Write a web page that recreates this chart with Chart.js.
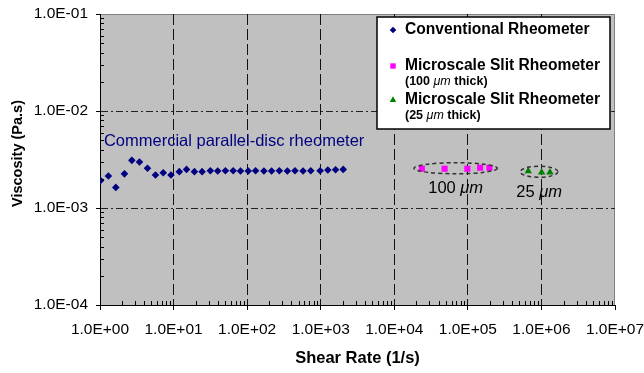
<!DOCTYPE html>
<html lang="en">
<head>
	<meta charset="UTF-8">
	<title>Viscosity vs Shear Rate</title>
	<script src="https://cdn.jsdelivr.net/npm/chart.js"></script>
	<style>
		* { margin: 0; padding: 0; box-sizing: border-box; }
		body { background: #fff; }
		#wrap { width: 644px; height: 373px; }
	</style>
</head>
<body>
	<div id="wrap"><canvas id="chart" width="644" height="373"></canvas></div>

	<script>
		const FONT = 'Arial, "Liberation Sans", sans-serif';

		// conventional (parallel-disc) rheometer
		const convShear = [1.02, 1.30, 1.64, 2.15, 2.71, 3.44, 4.42, 5.68, 7.23, 9.22,
			11.97, 15.0, 19.2, 24.4, 31.6, 39.8, 50.7, 64.6, 81.3, 103.5,
			130.2, 169, 215, 274, 352, 447, 575, 733, 982, 1250, 1592, 2022];
		const convVisc = [1.92e-3, 2.14e-3, 1.63e-3, 2.25e-3, 3.10e-3, 2.98e-3, 2.57e-3, 2.19e-3, 2.31e-3, 2.19e-3,
			2.37e-3, 2.50e-3, 2.37e-3, 2.37e-3, 2.42e-3, 2.405e-3, 2.42e-3, 2.42e-3, 2.405e-3, 2.405e-3,
			2.42e-3, 2.405e-3, 2.405e-3, 2.42e-3, 2.405e-3, 2.42e-3, 2.405e-3, 2.42e-3, 2.42e-3, 2.466e-3, 2.48e-3, 2.50e-3];

		// microscale slit rheometer, 100 um gap
		const slit100Shear = [23700, 48300, 98400, 146700, 196500];
		const slit100Visc = [2.54e-3, 2.54e-3, 2.54e-3, 2.60e-3, 2.60e-3];

		// microscale slit rheometer, 25 um gap
		const slit25Shear = [662000, 1006000, 1306000];
		const slit25Visc = [2.40e-3, 2.33e-3, 2.33e-3];

		const xTicks = [1, 10, 100, 1e3, 1e4, 1e5, 1e6, 1e7];
		const yTicks = [1e-4, 1e-3, 1e-2, 1e-1];

		const seriesNames = ['Conventional Rheometer', 'Microscale Slit Rheometer', 'Microscale Slit Rheometer'];
		const seriesNotes = [null, ['(100 ', 'μm', ' thick)'], ['(25 ', 'μm', ' thick)']];
		const seriesColors = ['#000080', '#ff00ff', '#008000'];
		const seriesStyles = ['rectRot', 'rect', 'triangle'];
		const seriesRadius = [3.8, 4.3, 4.3];

		const groupLabels = [['100 ', 'μm'], ['25 ', 'μm']];
		const commercialLabel = 'Commercial parallel-disc rheometer';
		const yTitle = 'Viscosity (Pa.s)';

		function toPoints(xs, ys) {
			return xs.map((x, i) => ({ x: x, y: ys[i] }));
		}

		function sci(v) {
			const e = Math.round(Math.log10(v));
			return '1.0E' + (e < 0 ? '-' : '+') + String(Math.abs(e)).padStart(2, '0');
		}

		// gray plot background + top/right frame
		const plotBg = {
			id: 'plotBg',
			beforeDraw(chart) {
				const { ctx, chartArea: a } = chart;
				ctx.save();
				ctx.fillStyle = '#c0c0c0';
				ctx.fillRect(a.left, a.top, a.right - a.left, a.bottom - a.top);
				ctx.strokeStyle = '#808080';
				ctx.lineWidth = 1;
				ctx.beginPath();
				ctx.moveTo(a.left, a.top + 0.5);
				ctx.lineTo(a.right - 0.5, a.top + 0.5);
				ctx.lineTo(a.right - 0.5, a.bottom);
				ctx.stroke();
				ctx.restore();
			}
		};

		// minor ticks, ellipses, labels, y title and the legend box
		const extras = {
			id: 'extras',
			afterDatasetsDraw(chart) {
				const { ctx, chartArea: a } = chart;
				const xs = chart.scales.x, ys = chart.scales.y;
				ctx.save();

				// minor ticks pointing inward
				ctx.strokeStyle = '#000';
				ctx.lineWidth = 1;
				ctx.beginPath();
				for (let d = 0; d < 7; d++) {
					for (let m = 2; m < 10; m++) {
						const px = Math.round(xs.getPixelForValue(m * Math.pow(10, d))) + 0.5;
						ctx.moveTo(px, a.bottom);
						ctx.lineTo(px, a.bottom - 4);
					}
				}
				for (let d = -4; d < -1; d++) {
					for (let m = 2; m < 10; m++) {
						const py = Math.round(ys.getPixelForValue(m * Math.pow(10, d))) + 0.5;
						ctx.moveTo(a.left, py);
						ctx.lineTo(a.left + 4, py);
					}
				}
				ctx.stroke();

				// dashed ellipses around the slit rheometer groups
				const groups = [[slit100Shear, slit100Visc], [slit25Shear, slit25Visc]];
				groups.forEach((g, i) => {
					const x0 = xs.getPixelForValue(Math.min(...g[0]) / 1.28);
					const x1 = xs.getPixelForValue(Math.max(...g[0]) * 1.28);
					const ym = Math.sqrt(Math.min(...g[1]) * Math.max(...g[1]));
					const y0 = ys.getPixelForValue(ym * 1.14);
					const y1 = ys.getPixelForValue(ym / 1.14);
					const cx = (x0 + x1) / 2, cy = (y0 + y1) / 2;
					ctx.strokeStyle = '#303030';
					ctx.lineWidth = 1.5;
					ctx.setLineDash([4, 3]);
					ctx.beginPath();
					ctx.ellipse(cx, cy, (x1 - x0) / 2, (y1 - y0) / 2, 0, 0, Math.PI * 2);
					ctx.stroke();
					ctx.setLineDash([]);

					// "100 um" style label under the ellipse
					const lab = groupLabels[i];
					ctx.fillStyle = '#000';
					ctx.textBaseline = 'middle';
					ctx.font = '16.5px ' + FONT;
					const w0 = ctx.measureText(lab[0]).width;
					ctx.font = 'italic 16.5px ' + FONT;
					const w1 = ctx.measureText(lab[1]).width;
					const tx = cx - (w0 + w1) / 2;
					const ty = y1 + 15;
					ctx.font = '16.5px ' + FONT;
					ctx.fillText(lab[0], tx, ty);
					ctx.font = 'italic 16.5px ' + FONT;
					ctx.fillText(lab[1], tx + w0, ty);
				});

				// commercial rheometer caption
				ctx.fillStyle = '#000080';
				ctx.font = '16.5px ' + FONT;
				ctx.textBaseline = 'middle';
				ctx.textAlign = 'left';
				ctx.fillText(commercialLabel, xs.getPixelForValue(1.13), ys.getPixelForValue(4.85e-3));

				ctx.restore();
			},
			afterDraw(chart) {
				const { ctx, chartArea: a } = chart;
				ctx.save();

				// y axis title
				ctx.translate(18, (a.top + a.bottom) / 2 - 6);
				ctx.rotate(-Math.PI / 2);
				ctx.fillStyle = '#000';
				ctx.font = 'bold 14.5px ' + FONT;
				ctx.textAlign = 'center';
				ctx.textBaseline = 'middle';
				ctx.fillText(yTitle, 0, 0);
				ctx.setTransform(1, 0, 0, 1, 0, 0);

				// legend
				const bx = a.right - 238, by = a.top + 3, bw = 233, bh = 112;
				ctx.fillStyle = '#fff';
				ctx.fillRect(bx, by, bw, bh);
				ctx.strokeStyle = '#000';
				ctx.lineWidth = 1.5;
				ctx.strokeRect(bx, by, bw, bh);

				const rows = [13, 49, 83];
				ctx.textBaseline = 'middle';
				ctx.textAlign = 'left';
				seriesNames.forEach((name, i) => {
					const y = by + rows[i];
					ctx.fillStyle = seriesColors[i];
					Chart.helpers.drawPoint(ctx, {
						pointStyle: seriesStyles[i], radius: seriesRadius[i] - 0.5, rotation: 0, borderWidth: 0
					}, bx + 16, y);
					ctx.fillStyle = '#000';
					ctx.font = 'bold 15.6px ' + FONT;
					ctx.fillText(name, bx + 28, y);
					const note = seriesNotes[i];
					if (note) {
						let tx = bx + 28;
						const ty = y + 16;
						ctx.font = 'bold 12.5px ' + FONT;
						ctx.fillText(note[0], tx, ty);
						tx += ctx.measureText(note[0]).width;
						ctx.font = 'italic 12.5px ' + FONT;
						ctx.fillText(note[1], tx, ty);
						tx += ctx.measureText(note[1]).width;
						ctx.font = 'bold 12.5px ' + FONT;
						ctx.fillText(note[2], tx, ty);
					}
				});
				ctx.restore();
			}
		};

		const datasets = [
			toPoints(convShear, convVisc),
			toPoints(slit100Shear, slit100Visc),
			toPoints(slit25Shear, slit25Visc)
		].map((pts, i) => ({
			label: seriesNames[i],
			data: pts,
			pointStyle: seriesStyles[i],
			pointRadius: seriesRadius[i],
			pointHoverRadius: seriesRadius[i],
			pointBackgroundColor: seriesColors[i],
			pointBorderWidth: 0,
			borderColor: seriesColors[i],
			showLine: false
		}));

		new Chart(document.getElementById('chart'), {
			type: 'scatter',
			data: { datasets: datasets },
			plugins: [plotBg, extras],
			options: {
				responsive: false,
				animation: false,
				devicePixelRatio: 1,
				layout: { padding: { left: 0, right: 29, top: 14, bottom: 0 } },
				plugins: {
					legend: { display: false },
					tooltip: { enabled: false }
				},
				scales: {
					x: {
						type: 'logarithmic',
						min: 1,
						max: 1e7,
						afterBuildTicks: axis => { axis.ticks = xTicks.map(v => ({ value: v })); },
						afterFit: axis => {
							axis.height = 68;
							axis.paddingLeft = 0;
							axis.paddingRight = 0;
						},
						border: { color: '#000', width: 1, dash: [11, 4] },
						grid: {
							color: c => (c.tick && (c.tick.value === 1 || c.tick.value === 1e7)) ? 'rgba(0,0,0,0)' : '#111',
							tickColor: '#000',
							tickBorderDash: [],
							tickLength: 5,
							lineWidth: 1
						},
						ticks: {
							autoSkip: false,
							maxRotation: 0,
							padding: 10,
							color: '#000',
							font: { family: FONT, size: 15.5 },
							callback: v => sci(v)
						},
						title: {
							display: true,
							text: 'Shear Rate (1/s)',
							color: '#000',
							font: { family: FONT, size: 16.5, weight: 'bold' },
							padding: { top: 0, bottom: 5 }
						}
					},
					y: {
						type: 'logarithmic',
						min: 1e-4,
						max: 1e-1,
						afterBuildTicks: axis => { axis.ticks = yTicks.map(v => ({ value: v })); },
						afterFit: axis => {
							axis.width = 100;
							axis.paddingTop = 0;
							axis.paddingBottom = 0;
						},
						border: { color: '#000', width: 1, dash: [7, 3, 2, 3] },
						grid: {
							color: c => (c.tick && (c.tick.value === 1e-4 || c.tick.value === 1e-1)) ? 'rgba(0,0,0,0)' : '#222',
							tickColor: '#000',
							tickBorderDash: [],
							tickLength: 4,
							lineWidth: 1
						},
						ticks: {
							autoSkip: false,
							padding: 8,
							color: '#000',
							font: { family: FONT, size: 15.5 },
							callback: v => sci(v)
						},
						title: { display: false }
					}
				}
			}
		});
	</script>
</body>
</html>
